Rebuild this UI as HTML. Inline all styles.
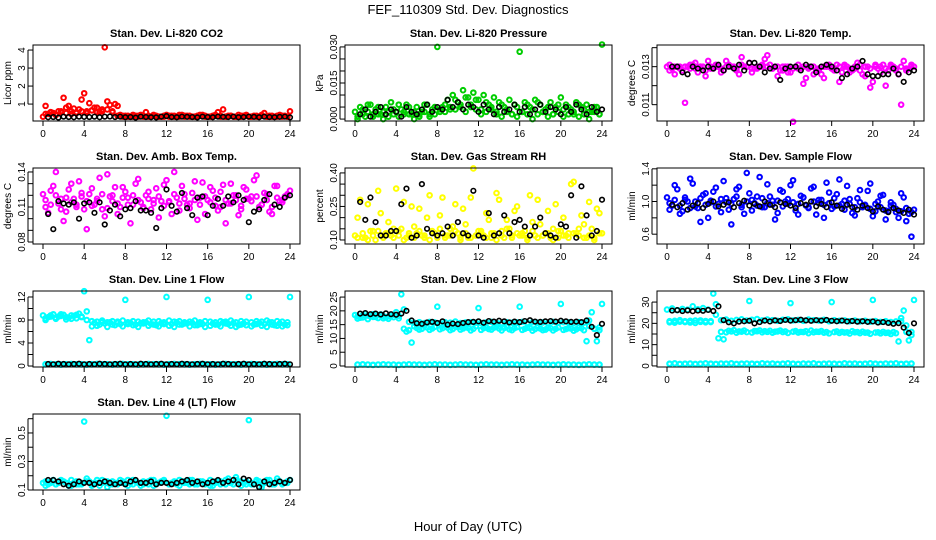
<!DOCTYPE html>
<html><head><meta charset="utf-8"><style>
body{margin:0;background:#fff}
svg{display:block;font-family:"Liberation Sans",sans-serif}
</style></head><body>
<svg id="c" width="936" height="540" viewBox="0 0 936 540">
<text x="468" y="14" text-anchor="middle" font-size="13">FEF_110309  Std. Dev. Diagnostics</text>
<text x="468" y="531" text-anchor="middle" font-size="13">Hour of Day (UTC)</text>
</svg>
<script>
const hourTicks=[0,4,8,12,16,20,24];
const titles=["Stan. Dev. Li-820 CO2","Stan. Dev. Li-820 Pressure","Stan. Dev. Li-820 Temp.","Stan. Dev. Amb. Box Temp.","Stan. Dev. Gas Stream RH","Stan. Dev. Sample Flow","Stan. Dev. Line 1 Flow","Stan. Dev. Line 2 Flow","Stan. Dev. Line 3 Flow","Stan. Dev. Line 4 (LT) Flow"];
const yLabels=["Licor ppm","kPa","degrees C","degrees C","percent","ml/min","ml/min","ml/min","ml/min","ml/min"];
const yDomains=[[0.06,4.28],[-0.0008,0.0308],[0.01014,0.01414],[0.0783,0.1434],[0.082,0.422],[0.48,1.41],[-0.17,13.04],[-0.36,27.2],[-0.5,35.2],[0.1,0.633]];
const yTicks=[[1,2,3,4],[0,0.005,0.01,0.015,0.02,0.025,0.03],[0.011,0.012,0.013,0.014],[0.08,0.09,0.10,0.11,0.12,0.13,0.14],[0.10,0.15,0.20,0.25,0.30,0.35,0.40],[0.6,0.8,1.0,1.2,1.4],[0,2,4,6,8,10,12],[0,5,10,15,20,25],[0,5,10,15,20,25,30],[0.1,0.2,0.3,0.4,0.5,0.6]];
const yTickLabels=[["1","2","3","4"],["0.000","","","0.015","","","0.030"],["0.011","","0.013",""],["0.08","","","0.11","","","0.14"],["0.10","","","0.25","","","0.40"],["0.6","","1.0","","1.4"],["0","","4","","8","","12"],["0","5","10","15","20","25"],["0","","10","","20","","30"],["0.1","","0.3","","0.5",""]];
const colors=["#ff0000","#00cd00","#ff00ff","#ff00ff","#ffff00","#0000ff","#00ffff","#00ffff","#00ffff","#00ffff"];

// series A at hour i/2, B and C at i/2+0.25, Z (zero band) at i/2+0.25, black at i/2+0.5
const co2A=[0.3,0.45,0.5,0.6,1.35,0.9,0.75,0.7,1.6,1.05,0.8,0.55,4.15,0.95,1.0,0.4,0.35,0.3,0.35,0.4,0.55,0.3,0.35,0.3,0.4,0.35,0.3,0.4,0.35,0.3,0.35,0.4,0.3,0.35,0.55,0.7,0.35,0.3,0.4,0.35,0.3,0.35,0.3,0.5,0.35,0.3,0.4,0.35,0.6];
const co2B=[0.9,0.55,0.4,0.55,0.8,0.6,0.5,1.25,0.6,0.65,0.8,0.7,1.15,0.6,0.9,0.35,0.3,0.4,0.35,0.3,0.35,0.4,0.3,0.35,0.3,0.35,0.4,0.3,0.35,0.3,0.4,0.35,0.3,0.4,0.35,0.3,0.35,0.3,0.35,0.4,0.3,0.35,0.4,0.3,0.35,0.3,0.35,0.3];
const co2C=[0.45,0.55,0.4,0.6,0.5,0.45,0.55,0.6,0.5,0.65,0.55,0.6,0.7,0.55,0.35,0.3,0.35,0.3,0.3,0.35,0.3,0.35,0.3,0.3,0.35,0.3,0.3,0.35,0.3,0.3,0.35,0.3,0.3,0.35,0.3,0.3,0.35,0.3,0.3,0.35,0.3,0.3,0.35,0.3,0.3,0.35,0.3,0.3];
const co2K=[0.27,0.28,0.25,0.3,0.28,0.27,0.3,0.29,0.28,0.3,0.27,0.3,0.31,0.28,0.3,0.27,0.28,0.25,0.3,0.28,0.27,0.26,0.3,0.33,0.28,0.27,0.3,0.29,0.28,0.26,0.3,0.28,0.27,0.3,0.29,0.28,0.3,0.27,0.28,0.3,0.29,0.27,0.3,0.28,0.27,0.29,0.3,0.26];

const presA=[0.003,0.005,0.001,0.006,0.004,0.002,0.005,0.007,0.003,0.004,0.006,0.002,0.005,0.003,0.006,0.004,0.030,0.005,0.008,0.010,0.007,0.012,0.009,0.011,0.008,0.010,0.006,0.009,0.007,0.005,0.008,0.006,0.028,0.007,0.005,0.008,0.006,0.004,0.007,0.005,0.009,0.006,0.004,0.007,0.005,0.006,0.003,0.005,0.031];
const presB=[0.001,0.004,0.006,0.002,0.005,0.003,0.001,0.004,0.006,0.002,0.005,0.003,0.001,0.006,0.002,0.005,0.003,0.006,0.004,0.008,0.005,0.009,0.006,0.008,0.004,0.007,0.005,0.003,0.006,0.004,0.002,0.005,0.003,0.006,0.004,0.007,0.003,0.005,0.002,0.006,0.004,0.005,0.002,0.006,0.004,0.003,0.005,0.002];
const presC=[0.000,0.002,0.003,0.001,0.002,0.000,0.003,0.002,0.001,0.003,0.002,0.000,0.002,0.003,0.001,0.002,0.004,0.003,0.005,0.004,0.006,0.003,0.005,0.004,0.002,0.003,0.004,0.002,0.001,0.003,0.002,0.001,0.003,0.002,0.000,0.002,0.003,0.001,0.002,0.003,0.001,0.002,0.003,0.001,0.002,0.000,0.003,0.002];
const presK=[0.002,0.004,0.001,0.003,0.005,0.002,0.004,0.003,0.001,0.005,0.003,0.002,0.004,0.006,0.003,0.005,0.004,0.008,0.005,0.007,0.004,0.006,0.005,0.003,0.006,0.004,0.002,0.005,0.003,0.004,0.006,0.003,0.005,0.002,0.004,0.006,0.003,0.005,0.004,0.002,0.005,0.003,0.006,0.004,0.002,0.005,0.003,0.004];

const tempA=[0.0130,0.0129,0.0130,0.0128,0.0130,0.0131,0.0127,0.0130,0.0133,0.0129,0.0130,0.0128,0.0131,0.0130,0.0126,0.0130,0.0132,0.0129,0.0130,0.0134,0.0131,0.0130,0.0128,0.0130,0.0127,0.0130,0.0129,0.0124,0.0130,0.0128,0.0126,0.0130,0.0129,0.0131,0.0127,0.0130,0.0128,0.0132,0.0126,0.0130,0.0122,0.0129,0.0131,0.0128,0.0130,0.0126,0.0133,0.0129,0.0130];
const tempB=[0.0128,0.0126,0.0130,0.0111,0.0129,0.0132,0.0130,0.0125,0.0129,0.0130,0.0127,0.0133,0.0130,0.0128,0.0135,0.0130,0.0127,0.0129,0.0130,0.0136,0.0129,0.0125,0.0130,0.0127,0.0101,0.0129,0.0121,0.0130,0.0126,0.0129,0.0124,0.0130,0.0128,0.0122,0.0130,0.0127,0.0129,0.0131,0.0125,0.0119,0.0130,0.0127,0.0120,0.0131,0.0129,0.0110,0.0128,0.0130];
const tempC=[0.0131,0.0130,0.0129,0.0130,0.0131,0.0129,0.0130,0.0128,0.0130,0.0131,0.0129,0.0130,0.0130,0.0129,0.0131,0.0130,0.0129,0.0130,0.0131,0.0130,0.0129,0.0130,0.0128,0.0130,0.0129,0.0131,0.0130,0.0129,0.0130,0.0128,0.0130,0.0131,0.0129,0.0130,0.0131,0.0129,0.0130,0.0128,0.0130,0.0129,0.0131,0.0130,0.0129,0.0130,0.0128,0.0130,0.0129,0.0131];
const tempK=[0.0130,0.0130,0.0127,0.0126,0.0130,0.0129,0.0128,0.0130,0.0129,0.0131,0.0128,0.0130,0.0129,0.0131,0.0128,0.0132,0.0132,0.0130,0.0127,0.0129,0.0130,0.0123,0.0129,0.0130,0.0130,0.0128,0.0131,0.0130,0.0127,0.0130,0.0131,0.0130,0.0128,0.0124,0.0126,0.0129,0.0130,0.0133,0.0126,0.0125,0.0125,0.0126,0.0126,0.0129,0.0126,0.0122,0.0127,0.0128];

const ambA=[0.121,0.105,0.128,0.113,0.098,0.125,0.117,0.132,0.108,0.121,0.112,0.135,0.102,0.119,0.127,0.110,0.123,0.096,0.130,0.114,0.120,0.108,0.126,0.115,0.133,0.104,0.118,0.128,0.112,0.122,0.099,0.131,0.116,0.124,0.107,0.129,0.113,0.120,0.103,0.127,0.117,0.133,0.110,0.122,0.106,0.128,0.115,0.119,0.124];
const ambB=[0.110,0.124,0.140,0.117,0.106,0.130,0.112,0.122,0.091,0.126,0.115,0.108,0.138,0.120,0.104,0.127,0.118,0.112,0.134,0.109,0.123,0.116,0.101,0.129,0.114,0.140,0.107,0.121,0.113,0.132,0.118,0.104,0.127,0.111,0.123,0.096,0.130,0.116,0.108,0.125,0.119,0.137,0.112,0.121,0.104,0.128,0.116,0.120];
const ambC=[0.116,0.112,0.120,0.108,0.118,0.114,0.110,0.119,0.115,0.111,0.117,0.121,0.109,0.115,0.113,0.118,0.112,0.120,0.116,0.110,0.117,0.113,0.119,0.111,0.115,0.121,0.113,0.117,0.109,0.116,0.112,0.119,0.114,0.118,0.110,0.116,0.113,0.120,0.111,0.117,0.115,0.119,0.112,0.116,0.110,0.118,0.114,0.121];
const ambK=[0.104,0.091,0.115,0.113,0.112,0.114,0.100,0.113,0.114,0.105,0.114,0.095,0.107,0.112,0.102,0.108,0.109,0.115,0.107,0.107,0.105,0.092,0.109,0.125,0.111,0.106,0.122,0.109,0.103,0.118,0.119,0.103,0.111,0.117,0.111,0.119,0.114,0.120,0.116,0.097,0.106,0.108,0.116,0.121,0.112,0.110,0.118,0.120];

const rhA=[0.12,0.28,0.11,0.14,0.10,0.22,0.13,0.12,0.33,0.15,0.11,0.25,0.13,0.12,0.20,0.14,0.11,0.29,0.12,0.16,0.13,0.24,0.11,0.42,0.14,0.12,0.19,0.13,0.28,0.11,0.15,0.23,0.12,0.14,0.30,0.12,0.17,0.13,0.11,0.26,0.14,0.12,0.35,0.13,0.21,0.11,0.15,0.24,0.13];
const rhB=[0.20,0.11,0.26,0.14,0.32,0.12,0.18,0.11,0.14,0.27,0.12,0.16,0.24,0.11,0.30,0.13,0.21,0.12,0.15,0.26,0.11,0.17,0.29,0.12,0.13,0.22,0.11,0.31,0.14,0.19,0.12,0.25,0.13,0.11,0.18,0.28,0.12,0.23,0.15,0.11,0.20,0.13,0.36,0.12,0.17,0.27,0.11,0.22];
const rhC=[0.11,0.13,0.10,0.12,0.14,0.11,0.13,0.15,0.12,0.10,0.13,0.11,0.14,0.12,0.10,0.13,0.15,0.11,0.12,0.14,0.10,0.13,0.11,0.12,0.14,0.11,0.13,0.10,0.12,0.15,0.11,0.13,0.12,0.10,0.14,0.11,0.12,0.13,0.10,0.14,0.12,0.11,0.13,0.15,0.11,0.12,0.10,0.13];
const rhK=[0.27,0.19,0.29,0.18,0.12,0.12,0.14,0.14,0.26,0.33,0.11,0.12,0.35,0.15,0.13,0.12,0.13,0.16,0.12,0.18,0.13,0.12,0.32,0.12,0.11,0.22,0.12,0.13,0.21,0.13,0.18,0.19,0.16,0.12,0.16,0.20,0.13,0.12,0.11,0.17,0.16,0.30,0.11,0.34,0.21,0.12,0.14,0.28];

const sfA=[1.05,0.95,1.15,0.88,1.00,1.22,0.92,1.08,0.80,1.12,0.97,1.25,0.90,1.03,1.18,0.85,1.10,0.98,1.30,0.93,1.06,0.78,1.14,1.00,1.20,0.89,1.07,0.95,1.16,0.84,1.02,1.23,0.91,1.09,0.97,1.19,0.86,1.04,0.93,1.13,0.82,1.00,1.08,0.88,0.96,0.80,1.05,0.85,0.90];
const sfB=[0.90,1.20,0.85,1.02,1.28,0.94,0.75,1.10,0.99,1.17,0.87,1.04,0.72,1.15,0.96,1.35,0.89,1.06,0.93,1.21,1.01,0.86,1.12,0.97,1.26,0.84,1.05,0.92,1.18,0.98,0.80,1.11,0.94,1.27,0.90,1.03,0.83,1.14,0.96,1.22,0.88,1.07,0.78,0.99,0.87,1.10,0.76,0.57];
const sfC=[0.98,1.02,0.95,1.05,0.92,1.00,1.04,0.96,1.01,0.94,1.03,0.99,0.97,1.06,0.93,1.00,1.02,0.95,1.04,0.98,0.96,1.01,0.94,1.03,0.99,0.97,1.05,0.93,1.00,1.02,0.96,0.98,1.04,0.95,1.01,0.97,0.93,0.99,0.95,0.91,0.97,0.93,0.89,0.95,0.91,0.88,0.92,0.87];
const sfK=[0.96,0.93,0.98,0.90,0.95,0.98,0.92,0.97,1.00,0.94,0.96,0.99,0.93,0.98,1.01,0.95,0.97,0.94,1.00,0.96,0.93,0.99,0.97,0.95,0.92,0.98,0.96,1.00,0.94,0.97,0.93,0.99,0.95,0.91,0.96,0.93,0.90,0.95,0.92,0.88,0.94,0.90,0.87,0.92,0.89,0.86,0.90,0.84];

const l1A=[8.8,8.5,9.0,8.6,8.9,8.4,8.7,9.1,13.0,4.5,7.5,7.2,7.4,7.6,7.1,7.3,11.5,7.5,7.2,7.4,7.6,7.3,7.1,7.5,12.0,7.3,7.6,7.2,7.4,7.5,7.1,7.3,11.5,7.4,7.2,7.6,7.3,7.5,7.1,7.4,12.0,7.2,7.5,7.3,7.6,7.1,7.4,7.2,12.0];
const l1B=[8.3,8.8,8.4,9.0,8.5,8.2,8.9,8.6,9.5,6.9,7.0,7.6,6.8,7.2,7.5,6.9,7.3,7.1,6.8,7.4,7.0,7.2,6.9,7.3,7.0,6.8,7.2,7.4,6.9,7.1,7.3,6.8,7.0,7.2,6.9,7.4,7.0,6.8,7.2,7.1,6.9,7.3,7.0,6.8,7.2,7.0,6.9,7.1];
const l1C=[8.0,8.6,8.2,8.7,8.1,8.8,8.3,8.5,8.0,7.8,7.7,7.9,7.6,7.8,7.7,7.9,7.6,7.8,7.7,7.6,7.9,7.7,7.8,7.6,7.9,7.7,7.8,7.6,7.7,7.9,7.6,7.8,7.7,7.6,7.8,7.7,7.9,7.6,7.8,7.7,7.6,7.8,7.7,7.9,7.6,7.8,7.7,7.6];
const l1Z=[0.3,0.35,0.3,0.25,0.3,0.35,0.3,0.3,0.25,0.3,0.35,0.3,0.3,0.25,0.3,0.35,0.3,0.3,0.25,0.3,0.35,0.3,0.3,0.25,0.3,0.35,0.3,0.3,0.25,0.3,0.35,0.3,0.3,0.25,0.3,0.35,0.3,0.3,0.25,0.3,0.35,0.3,0.3,0.25,0.3,0.35,0.3,0.3];
const l1K=[0.35,0.3,0.4,0.35,0.3,0.35,0.4,0.3,0.35,0.3,0.4,0.35,0.3,0.35,0.4,0.3,0.35,0.3,0.4,0.35,0.3,0.35,0.4,0.3,0.35,0.3,0.4,0.35,0.3,0.35,0.4,0.3,0.35,0.3,0.4,0.35,0.3,0.35,0.4,0.3,0.35,0.3,0.4,0.35,0.3,0.35,0.4,0.3];

const l2A=[18.5,17.5,19.0,18.0,17.8,18.7,17.6,18.2,19.5,26.0,12.5,8.5,13.8,13.5,14.0,13.6,21.5,13.7,13.9,13.4,14.1,13.6,13.8,13.5,21.0,13.7,13.4,13.9,13.6,13.8,13.3,13.7,21.5,13.5,13.8,13.4,13.6,13.2,13.7,13.5,22.5,13.4,13.6,13.3,13.7,9.0,19.5,9.0,22.5];
const l2B=[17.2,18.4,17.0,18.8,17.4,18.1,17.1,18.6,17.3,20.5,13.0,14.4,13.2,14.6,13.1,14.2,13.3,14.5,13.0,14.3,13.2,14.1,12.9,14.4,13.1,14.0,13.2,14.3,12.9,14.2,13.0,14.1,13.1,13.9,12.8,14.2,13.0,13.8,12.9,14.0,13.1,13.7,12.8,14.0,13.0,16.5,13.5,14.0];
const l2C=[18.0,17.6,18.3,17.8,18.5,17.3,18.0,17.7,18.2,13.5,16.0,15.7,15.9,15.6,16.0,15.8,15.5,15.9,15.7,16.1,15.6,15.8,15.9,15.7,15.6,15.8,16.0,15.7,15.6,15.9,15.7,15.8,16.0,15.6,15.9,15.7,15.8,15.6,16.0,15.7,15.9,15.8,15.6,15.9,15.7,14.5,13.5,13.0];
const l2Z=[0.5,0.6,0.5,0.4,0.5,0.6,0.5,0.5,0.4,0.5,0.6,0.5,0.5,0.4,0.5,0.6,0.5,0.5,0.4,0.5,0.6,0.5,0.5,0.4,0.5,0.6,0.5,0.5,0.4,0.5,0.6,0.5,0.5,0.4,0.5,0.6,0.5,0.5,0.4,0.5,0.6,0.5,0.5,0.4,0.5,0.6,0.5,0.5];
const l2K=[19.0,19.2,18.8,19.0,18.7,19.1,18.8,18.6,19.0,20.0,16.5,15.5,15.3,15.8,16.0,15.6,16.2,15.0,15.4,15.2,15.6,15.9,16.0,16.2,15.7,16.3,16.1,16.4,16.2,15.8,16.1,15.9,16.3,16.6,16.1,16.0,16.2,16.3,16.1,16.4,16.2,16.0,16.1,15.9,16.5,14.2,11.2,15.3];

const l3A=[26.5,27.0,26.2,26.8,26.4,28.0,26.6,27.2,26.5,34.0,13.0,12.5,16.5,16.8,16.2,16.6,30.5,16.4,16.7,16.3,16.5,16.1,16.6,16.2,29.5,16.4,16.0,16.3,16.6,16.1,16.4,15.9,30.0,16.2,16.0,15.8,16.3,15.9,16.1,15.7,31.0,15.8,16.0,15.6,15.9,11.5,26.0,12.0,31.0];
const l3B=[20.5,21.2,20.8,21.0,20.4,21.3,20.7,21.1,20.6,29.0,16.0,15.8,16.2,15.6,16.1,15.9,15.7,16.3,15.8,16.0,15.6,16.2,15.9,15.5,16.1,15.7,15.9,15.4,15.8,16.0,15.6,15.3,15.9,15.5,15.7,15.2,15.8,15.4,15.6,15.1,15.7,15.3,15.5,15.0,15.4,22.5,16.0,14.5];
const l3C=[21.0,20.3,21.5,20.6,21.2,20.2,21.4,20.5,21.0,24.0,21.5,21.8,21.2,21.6,21.9,21.3,21.7,22.0,21.4,21.8,21.5,21.2,21.7,21.9,21.4,21.6,21.2,21.8,21.5,21.3,21.7,21.0,21.5,21.2,21.4,21.0,21.3,20.9,21.2,20.8,21.1,20.7,21.0,20.6,20.9,21.0,19.0,16.0];
const l3Z=[1.0,1.2,0.9,1.0,1.1,0.9,1.0,1.2,1.0,0.9,1.1,1.0,1.2,0.9,1.0,1.1,1.0,0.9,1.2,1.0,1.1,0.9,1.0,1.2,1.0,0.9,1.1,1.0,1.2,0.9,1.0,1.1,1.0,0.9,1.2,1.0,1.1,0.9,1.0,1.2,1.0,0.9,1.1,1.0,1.2,0.9,1.0,1.1];
const l3K=[26.0,26.2,25.8,26.1,25.7,26.0,25.9,26.3,25.8,28.0,21.5,20.5,20.0,20.8,21.0,21.2,20.0,20.6,21.3,20.9,21.4,21.1,21.6,21.3,21.5,21.7,21.4,21.2,21.5,21.3,21.6,21.2,21.0,21.3,20.9,21.1,20.8,21.0,20.7,20.9,20.4,20.6,20.2,19.8,20.1,18.0,15.5,20.0];

const l4A=[0.15,0.14,0.17,0.15,0.16,0.13,0.15,0.14,0.58,0.16,0.15,0.13,0.16,0.14,0.15,0.17,0.14,0.15,0.16,0.13,0.15,0.17,0.14,0.16,0.62,0.15,0.14,0.16,0.15,0.17,0.14,0.16,0.15,0.13,0.16,0.15,0.18,0.14,0.16,0.15,0.59,0.14,0.16,0.15,0.17,0.14,0.16,0.15,0.17];
const l4B=[0.13,0.16,0.14,0.17,0.15,0.13,0.16,0.14,0.18,0.13,0.15,0.17,0.12,0.16,0.14,0.15,0.13,0.17,0.15,0.14,0.16,0.13,0.15,0.17,0.14,0.16,0.13,0.15,0.17,0.14,0.16,0.15,0.13,0.16,0.14,0.17,0.15,0.19,0.13,0.16,0.14,0.17,0.12,0.16,0.14,0.18,0.15,0.16];
const l4C=[0.16,0.15,0.14,0.16,0.15,0.17,0.14,0.15,0.16,0.14,0.17,0.15,0.16,0.14,0.15,0.16,0.17,0.14,0.15,0.16,0.14,0.17,0.15,0.16,0.14,0.15,0.17,0.16,0.14,0.15,0.16,0.14,0.17,0.15,0.16,0.14,0.15,0.17,0.16,0.14,0.15,0.16,0.14,0.17,0.15,0.16,0.14,0.15];
const l4K=[0.17,0.17,0.16,0.14,0.13,0.14,0.16,0.15,0.15,0.14,0.15,0.16,0.15,0.14,0.15,0.14,0.16,0.17,0.15,0.15,0.16,0.14,0.15,0.15,0.14,0.15,0.16,0.17,0.15,0.16,0.14,0.15,0.16,0.17,0.15,0.16,0.17,0.14,0.18,0.17,0.14,0.12,0.16,0.14,0.15,0.16,0.15,0.17];

const panelSeries=[
 [co2A,co2B,co2C,co2K],[presA,presB,presC,presK],[tempA,tempB,tempC,tempK],[ambA,ambB,ambC,ambK],
 [rhA,rhB,rhC,rhK],[sfA,sfB,sfC,sfK],[l1A,l1B,l1C,l1K,l1Z],[l2A,l2B,l2C,l2K,l2Z],[l3A,l3B,l3C,l3K,l3Z],[l4A,l4B,l4C,l4K]];

const NS="http://www.w3.org/2000/svg";
const svg=document.getElementById('c');
function mk(tag,attrs,parent){const e=document.createElementNS(NS,tag);for(const k in attrs)e.setAttribute(k,attrs[k]);parent.appendChild(e);return e;}

titles.forEach((title,p)=>{
  const col=p%3,row=Math.floor(p/3);
  const L=33+col*312,R=L+267,T=45+row*123,B=T+76;
  const x=h=>L+10+h*(R-L-20)/24;
  const [d0,d1]=yDomains[p];
  const y=v=>B-(v-d0)/(d1-d0)*(B-T);
  const g=mk('g',{},svg);
  
  
  const t=mk('text',{x:(L+R)/2,y:T-8,'text-anchor':'middle','font-size':'11','font-weight':'bold'},g);
  t.textContent=title;
  
  
  const yl=mk('text',{transform:`translate(${L-22},${(T+B)/2}) rotate(-90)`,'text-anchor':'middle','font-size':'10'},g);
  yl.textContent=yLabels[p];
  
  
  const s=panelSeries[p];
  const draw=(arr,off,color,name,sw)=>{
    arr.forEach((v,i)=>{
      const c=mk('circle',{cx:x(i/2+off),cy:y(v),r:2.3,fill:'none',stroke:color,'stroke-width':sw},g);
      
      
    });
  };
  if(s[4])draw(s[4],0.25,colors[p],'zero-point',2.2);
  draw(s[2],0.25,colors[p],'std-point',2);
  draw(s[1],0.25,colors[p],'std-point',2);
  draw(s[0],0,colors[p],'std-point',2);
  draw(s[3],0.5,'#000','mean-point',1.6);
  const box=mk('rect',{x:L,y:T,width:R-L,height:B-T,fill:'none',stroke:'#000','stroke-width':1},g);
  
  
  hourTicks.forEach(h=>{
    const tk=mk('line',{x1:x(h),x2:x(h),y1:B,y2:B+5,stroke:'#000'},g);
    
    
    const tl=mk('text',{x:x(h),y:B+16,'text-anchor':'middle','font-size':'10'},g);
    tl.textContent=h;
    
    
  });
  yTicks[p].forEach((v,i)=>{
    const tk=mk('line',{x1:L-5,x2:L,y1:y(v),y2:y(v),stroke:'#000'},g);
    
    
    const lab=yTickLabels[p][i];
    if(lab){
      const tl=mk('text',{transform:`translate(${L-8},${y(v)}) rotate(-90)`,'text-anchor':'middle','font-size':'10'},g);
      tl.textContent=lab;
      
      
    }
  });
  const ax=mk('line',{x1:L-5,x2:L-5,y1:y(yTicks[p][0]),y2:y(yTicks[p][yTicks[p].length-1]),stroke:'#000'},g);
  
  
});
</script>
</body></html>
